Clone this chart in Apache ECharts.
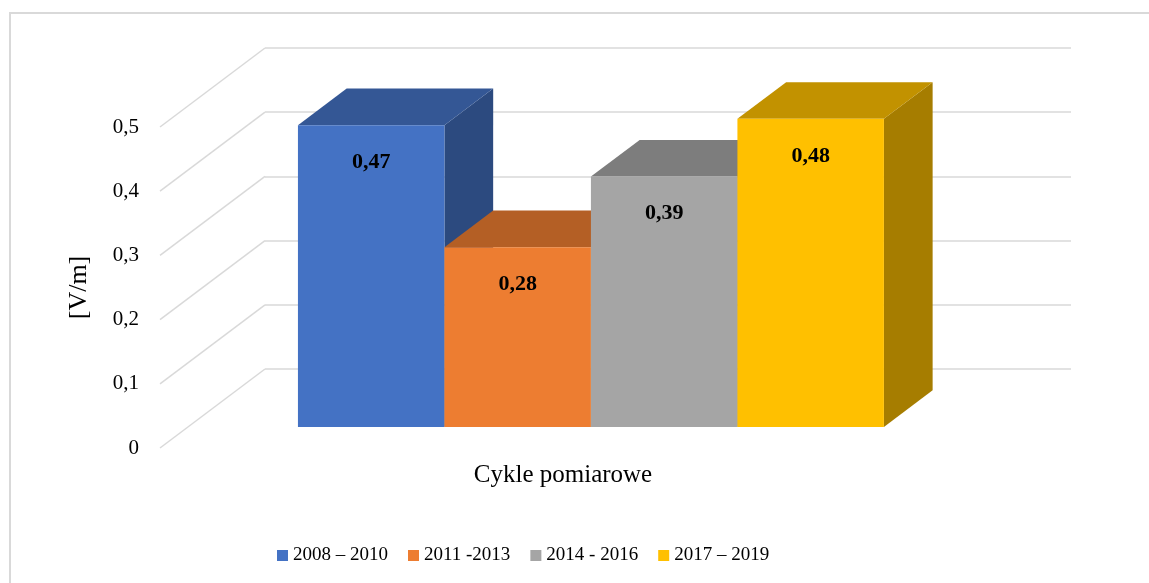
<!DOCTYPE html>
<html>
<head>
<meta charset="utf-8">
<script src="https://cdn.jsdelivr.net/npm/echarts@6/dist/echarts.min.js"></script>
<style>
  html, body { margin: 0; padding: 0; background: #fff; }
  #chart { width: 1149px; height: 583px; }
</style>
</head>
<body>
<div id="chart"></div>
<script>
// dane
const categories = ["Cykle pomiarowe"];
const periods = ["2008 – 2010", "2011 -2013", "2014 - 2016", "2017 – 2019"];
const values = [0.47, 0.28, 0.39, 0.48];
const yTicks = [0, 0.1, 0.2, 0.3, 0.4, 0.5];

// kolory: przód, góra, bok
const colors = [
  ["#4472C4", "#345795", "#2C4A7F"],
  ["#ED7D31", "#B45F25", "#9A5120"],
  ["#A5A5A5", "#7D7D7D", "#6B6B6B"],
  ["#FFC000", "#C29200", "#A67D00"]
];

const FONT = "Liberation Serif";
const DEPTH_X = 105; // głębokość podłogi (skos)
const DEPTH_Y = 79;
const FRONT = 0.734; // przód słupka
const BACK = 0.27; // tył słupka
const BAR_FRAC = 0.727; // część kategorii zajęta przez słupki
const GRID_COLOR = "#d9d9d9";

const fmt = v => String(v).replace(".", ",");

const chart = echarts.init(document.getElementById("chart"));

function barRenderer(i) {
  return function (params, api) {
    const v = api.value(1);
    const base = api.coord([0, 0]);
    const top = api.coord([0, v]);
    const band = api.size([1, 0])[0];
    const w = band * BAR_FRAC / values.length;
    const x0 = base[0] - band * BAR_FRAC / 2 + i * w;
    const fdx = -DEPTH_X * FRONT, fdy = DEPTH_Y * FRONT;
    const bdx = -DEPTH_X * BACK, bdy = DEPTH_Y * BACK;
    const xf0 = x0 + fdx, xf1 = x0 + w + fdx;
    const xb0 = x0 + bdx, xb1 = x0 + w + bdx;
    const ytf = top[1] + fdy, ybf = base[1] + fdy;
    const ytb = top[1] + bdy, ybb = base[1] + bdy;
    const c = colors[i];
    return {
      type: "group",
      children: [
        {
          type: "polygon",
          shape: { points: [[xf1, ytf], [xb1, ytb], [xb1, ybb], [xf1, ybf]] },
          style: { fill: c[2] }
        },
        {
          type: "polygon",
          shape: { points: [[xf0, ytf], [xf1, ytf], [xb1, ytb], [xb0, ytb]] },
          style: { fill: c[1] }
        },
        {
          type: "rect",
          shape: { x: xf0, y: ytf, width: w, height: ybf - ytf },
          style: { fill: c[0] }
        },
        {
          type: "text",
          x: (xf0 + xf1) / 2,
          y: ytf + 37,
          style: {
            text: fmt(v),
            fontFamily: FONT,
            fontWeight: "bold",
            fontSize: 22,
            fill: "#000",
            align: "center",
            verticalAlign: "middle"
          }
        }
      ]
    };
  };
}

const barSeries = periods.map((name, i) => ({
  name: name,
  type: "custom",
  xAxisIndex: 0,
  yAxisIndex: 0,
  itemStyle: { color: colors[i][0] },
  renderItem: barRenderer(i),
  data: [[0, values[i]]],
  z: 3
}));

// skośne linie na lewej ścianie
const wallSeries = {
  type: "custom",
  xAxisIndex: 0,
  yAxisIndex: 0,
  silent: true,
  renderItem: function (params, api) {
    const p = api.coord([0, api.value(0)]);
    const band = api.size([1, 0])[0];
    const x = p[0] - band / 2;
    return {
      type: "line",
      shape: { x1: x, y1: p[1], x2: x - DEPTH_X, y2: p[1] + DEPTH_Y },
      style: { stroke: GRID_COLOR, lineWidth: 1.5 }
    };
  },
  data: yTicks.map(t => [t]),
  encode: { y: 0 },
  z: 1
};

chart.setOption({
  animation: false,
  backgroundColor: "#fff",
  graphic: [
    {
      type: "rect",
      shape: { x: 10, y: 13, width: 1200, height: 620 },
      style: { fill: "none", stroke: GRID_COLOR, lineWidth: 2 },
      silent: true
    }
  ],
  legend: {
    data: periods,
    left: 272,
    top: 541,
    icon: "rect",
    itemWidth: 11,
    itemHeight: 11,
    itemGap: 20,
    textStyle: { fontFamily: FONT, fontSize: 19, color: "#000" }
  },
  grid: [
    { left: 265, top: 48, width: 806, height: 321 }, // tylna ściana
    { left: 160, top: 127, width: 806, height: 321 } // przednia krawędź
  ],
  xAxis: [
    {
      gridIndex: 0,
      type: "category",
      data: categories,
      axisLine: { show: false },
      axisTick: { show: false },
      axisLabel: { show: false }
    },
    {
      gridIndex: 1,
      type: "category",
      data: categories,
      axisLine: { show: false },
      axisTick: { show: false },
      axisLabel: { margin: 15, fontFamily: FONT, fontSize: 25, color: "#000" }
    }
  ],
  yAxis: [
    {
      gridIndex: 0,
      type: "value",
      min: 0,
      max: 0.5,
      interval: 0.1,
      axisLine: { show: false },
      axisTick: { show: false },
      axisLabel: { show: false },
      splitLine: { lineStyle: { color: GRID_COLOR, width: 1.5 } }
    },
    {
      gridIndex: 1,
      type: "value",
      min: 0,
      max: 0.5,
      interval: 0.1,
      name: "[V/m]",
      nameLocation: "middle",
      nameGap: 68,
      nameTextStyle: { fontFamily: FONT, fontSize: 26, color: "#000" },
      axisLine: { show: false },
      axisTick: { show: false },
      splitLine: { show: false },
      axisLabel: {
        margin: 21,
        fontFamily: FONT,
        fontSize: 21,
        color: "#000",
        formatter: fmt
      }
    }
  ],
  series: [wallSeries].concat(barSeries)
});
</script>
</body>
</html>
